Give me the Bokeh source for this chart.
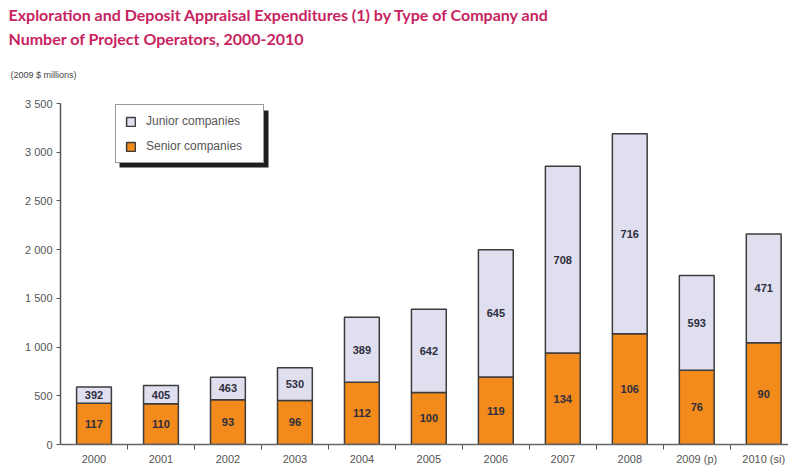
from bokeh.plotting import figure
from bokeh.models import (ColumnDataSource, Range1d, FixedTicker, Legend, LegendItem,
                          Title, BoxAnnotation, LabelSet)
from bokeh.core.properties import value
from bokeh.embed import file_html
from bokeh.resources import INLINE

# ---- data ----
years = ["2000", "2001", "2002", "2003", "2004", "2005", "2006", "2007", "2008", "2009 (p)", "2010 (si)"]
senior = [424, 418, 459, 452, 640, 534, 694, 939, 1136, 762, 1044]
junior = [166, 188, 232, 335, 667, 854, 1306, 1918, 2054, 973, 1116]
junior_ops = ["392", "405", "463", "530", "389", "642", "645", "708", "716", "593", "471"]
senior_ops = ["117", "110", "93", "96", "112", "100", "119", "134", "106", "76", "90"]
y_ticks = [0, 500, 1000, 1500, 2000, 2500, 3000, 3500]
y_tick_labels = ["0", "500", "1 000", "1 500", "2 000", "2 500", "3 000", "3 500"]

ORANGE = "#f28a1c"
LAVENDER = "#dfdff0"
EDGE = "#3c3c3c"
TXT = "#2e2e3c"

idx = list(range(len(years)))
src = ColumnDataSource(dict(
    x=idx, senior=senior, junior=junior,
    sen_mid=[s / 2 for s in senior],
    jun_mid=[s + j / 2 for s, j in zip(senior, junior)],
    junior_ops=junior_ops, senior_ops=senior_ops,
))

p = figure(width=788, height=467, output_backend="svg", toolbar_location=None,
           x_range=Range1d(-0.5, 10.37), y_range=Range1d(0, 3500),
           min_border_left=60, min_border_right=0, min_border_top=0, min_border_bottom=23)
p.outline_line_color = None
p.xgrid.visible = False
p.ygrid.visible = False
p.background_fill_color = "white"

r = p.vbar_stack(["senior", "junior"], x="x", width=0.52, source=src,
                 fill_color=[ORANGE, LAVENDER], line_color=EDGE, line_width=1.5)

lbl_font = "Liberation Sans"
for col, txtcol in (("sen_mid", "senior_ops"), ("jun_mid", "junior_ops")):
    ls = LabelSet(x="x", y=col, text=txtcol, source=src, text_align="center",
                  text_baseline="middle", text_font=value(lbl_font),
                  text_font_size=value("11px"), text_font_style=value("bold"),
                  text_color=TXT)
    p.add_layout(ls)

# axes
p.xaxis.ticker = FixedTicker(ticks=idx, minor_ticks=[i + 0.5 for i in idx])
p.xaxis.major_label_overrides = {i: y for i, y in enumerate(years)}
p.xaxis.major_tick_out = 0
p.xaxis.major_tick_in = 0
p.xaxis.minor_tick_out = 5
p.xaxis.minor_tick_in = 0
p.xaxis.minor_tick_line_color = "#555555"
p.xaxis.axis_line_color = "#666666"
p.xaxis.axis_line_width = 1.5
p.xaxis.major_label_text_font = lbl_font
p.xaxis.major_label_text_font_size = "11px"
p.xaxis.major_label_text_color = "#555555"
p.xaxis.major_label_standoff = 3

p.yaxis.ticker = FixedTicker(ticks=y_ticks)
p.yaxis.major_label_overrides = {t: l for t, l in zip(y_ticks, y_tick_labels)}
p.yaxis.minor_tick_line_color = None
p.yaxis.major_tick_out = 4
p.yaxis.major_tick_in = 0
p.yaxis.major_tick_line_color = "#555555"
p.yaxis.axis_line_color = "#555555"
p.yaxis.axis_line_width = 1.5
p.yaxis.major_label_text_font = lbl_font
p.yaxis.major_label_text_font_size = "11px"
p.yaxis.major_label_text_color = "#555555"
p.yaxis.major_label_standoff = 4

# legend shadow (drawn beneath the legend box)
shadow = BoxAnnotation(left=59, right=208, bottom=277, top=334,
                       left_units="screen", right_units="screen",
                       bottom_units="screen", top_units="screen",
                       fill_color="#1e1e1e", fill_alpha=1.0, line_color=None, level="underlay")
p.add_layout(shadow)

legend = Legend(items=[LegendItem(label="Junior companies", renderers=[r[1]]),
                       LegendItem(label="Senior companies", renderers=[r[0]])],
                location=(55, 281), orientation="vertical",
                label_text_font=lbl_font, label_text_font_size="12px", label_text_color="#555555",
                glyph_height=11, glyph_width=11, label_height=14, label_width=108,
                spacing=11, padding=9, margin=0, label_standoff=10,
                border_line_color="#333333", border_line_width=1, background_fill_alpha=1.0)
p.add_layout(legend)

# titles (first added sits closest to the plot)
title_font = "Lato"
TITLE_COLOR = "#c8235f"
sub = Title(text="(2009 $ millions)", text_font=lbl_font, text_font_size="9px",
            text_font_style="normal", text_color="#444444", align="left",
            vertical_align="top", offset=-50, standoff=44)
t2 = Title(text="Number of Project Operators, 2000-2010", text_font=title_font,
           text_font_size="16px", text_font_style="bold", text_color=TITLE_COLOR,
           align="left", offset=-52, standoff=0)
t1 = Title(text="Exploration and Deposit Appraisal Expenditures (1) by Type of Company and",
           text_font=title_font, text_font_size="16px", text_font_style="bold",
           text_color=TITLE_COLOR, align="left", offset=-52, standoff=5)
p.add_layout(sub, "above")
p.add_layout(t2, "above")
p.add_layout(t1, "above")

open("out.html", "w").write(file_html(p, INLINE))
